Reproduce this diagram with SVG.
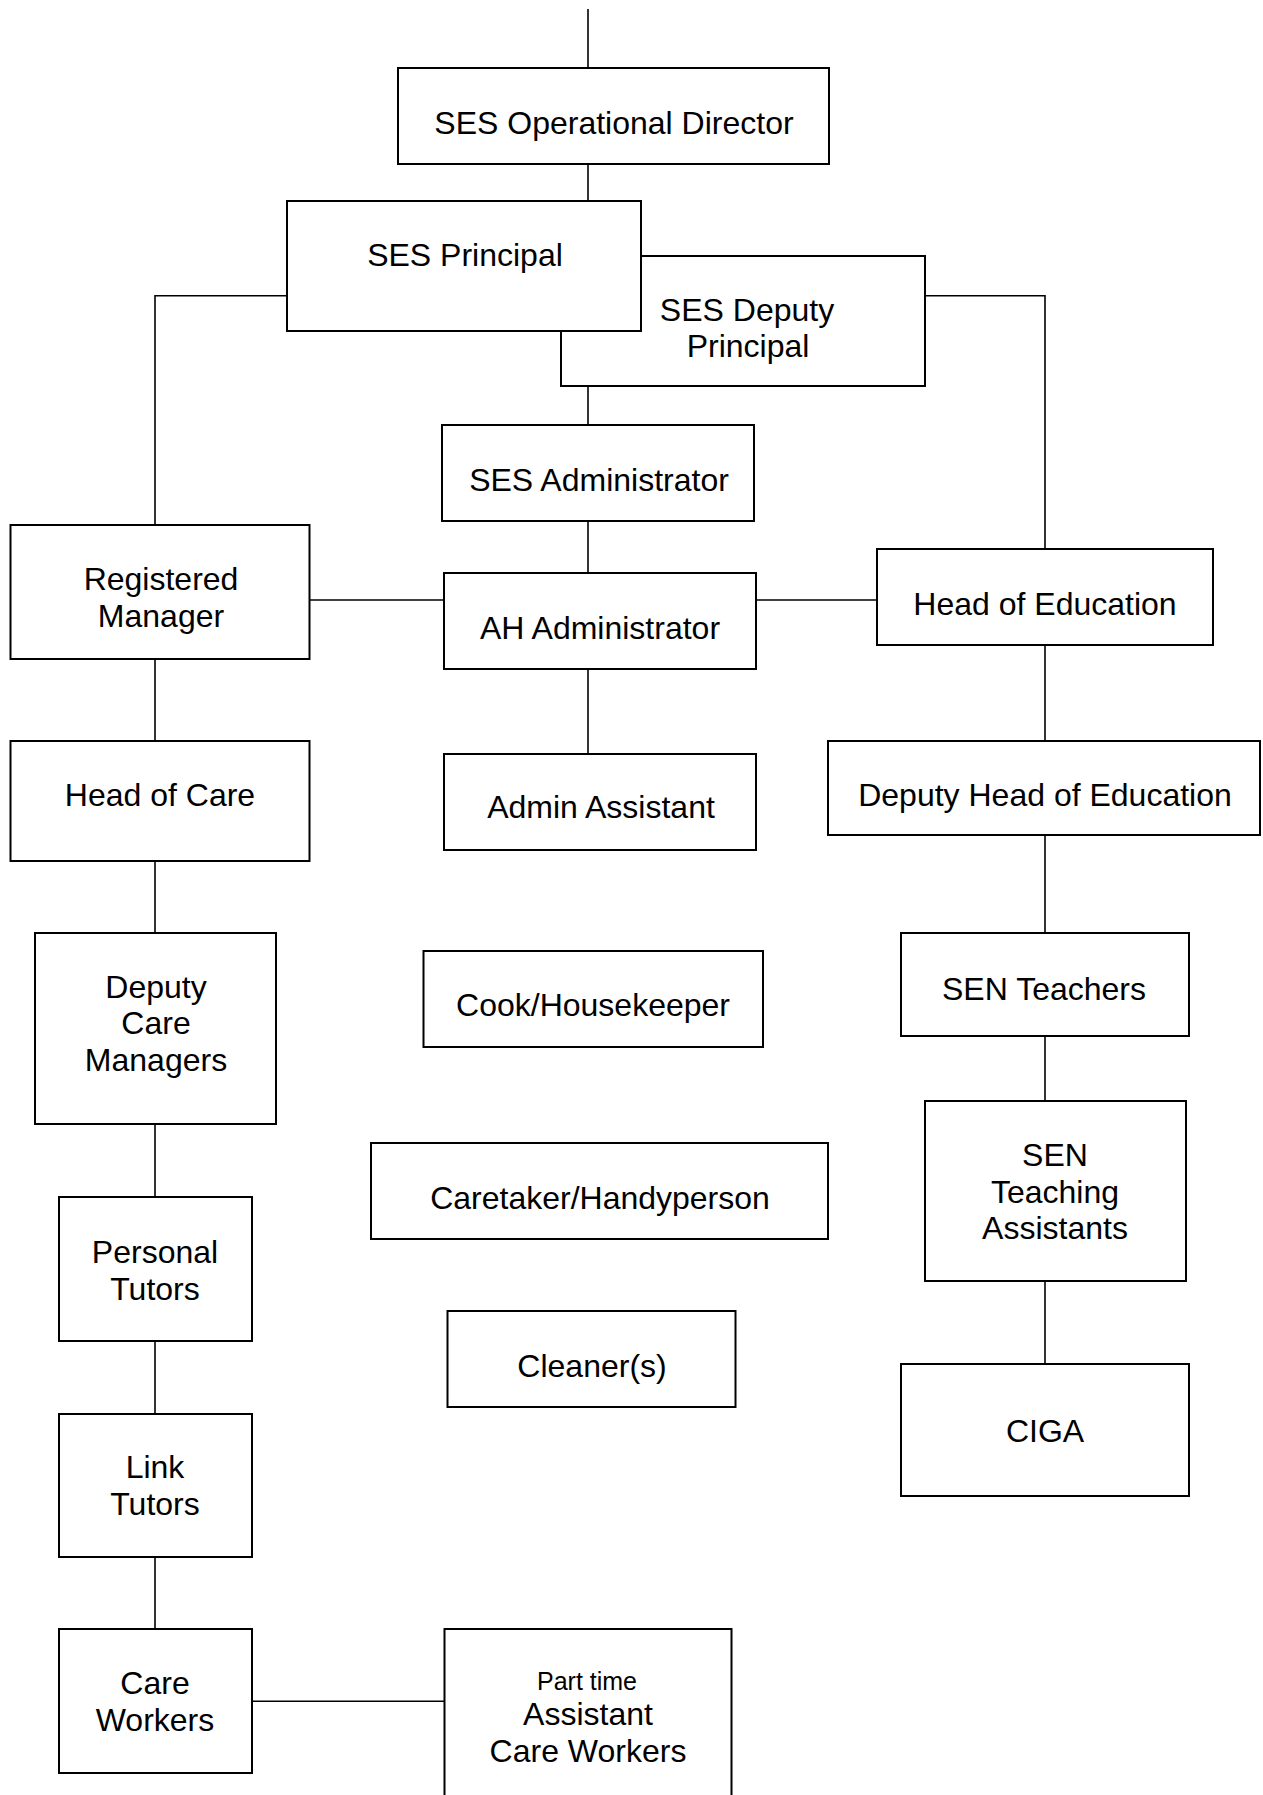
<svg xmlns="http://www.w3.org/2000/svg" width="1263" height="1795" viewBox="0 0 1263 1795">
<style>
.box{fill:#fff;stroke:#000;stroke-width:2}
.ln{fill:none;stroke:#000;stroke-width:1.6}
text{font-family:"Liberation Sans",Arial,sans-serif;font-size:32px;fill:#000;text-anchor:middle}
.sm{font-size:25px}
</style>
<rect width="1263" height="1795" fill="#fff"/>
<g id="connectors">
<path class="ln" d="M588,9V68"/>
<path class="ln" d="M588,164V201"/>
<path class="ln" d="M288,295.7H155V525"/>
<path class="ln" d="M925,295.7H1045V549"/>
<path class="ln" d="M588,386V425"/>
<path class="ln" d="M588,521V573"/>
<path class="ln" d="M310,600H444"/>
<path class="ln" d="M756,600H877"/>
<path class="ln" d="M588,669V754"/>
<path class="ln" d="M155,659V741"/>
<path class="ln" d="M155,861V933"/>
<path class="ln" d="M155,1124V1197"/>
<path class="ln" d="M155,1341V1414"/>
<path class="ln" d="M155,1557V1629"/>
<path class="ln" d="M252,1701.3H444"/>
<path class="ln" d="M1045,645V741"/>
<path class="ln" d="M1045,835V933"/>
<path class="ln" d="M1045,1036V1101"/>
<path class="ln" d="M1045,1281V1364"/>
</g>
<g id="op-director"><rect class="box" x="398" y="68" width="431" height="96"/><text x="614" y="134">SES Operational Director</text></g>
<g id="deputy-principal"><rect class="box" x="561" y="256" width="364" height="130"/><text x="747" y="321">SES Deputy</text><text x="748" y="357">Principal</text></g>
<g id="principal"><rect class="box" x="287" y="201" width="354" height="130"/><text x="465" y="266">SES Principal</text></g>
<g id="ses-administrator"><rect class="box" x="442" y="425" width="312" height="96"/><text x="599" y="491">SES Administrator</text></g>
<g id="registered-manager"><rect class="box" x="10.5" y="525" width="299" height="134"/><text x="161" y="590">Registered</text><text x="161" y="627">Manager</text></g>
<g id="ah-administrator"><rect class="box" x="444" y="573" width="312" height="96"/><text x="600" y="639">AH Administrator</text></g>
<g id="head-of-education"><rect class="box" x="877" y="549" width="336" height="96"/><text x="1045" y="615">Head of Education</text></g>
<g id="head-of-care"><rect class="box" x="10.5" y="741" width="299" height="120"/><text x="160" y="806">Head of Care</text></g>
<g id="admin-assistant"><rect class="box" x="444" y="754" width="312" height="96"/><text x="601" y="818">Admin Assistant</text></g>
<g id="deputy-head-of-education"><rect class="box" x="828" y="741" width="432" height="94"/><text x="1045" y="806">Deputy Head of Education</text></g>
<g id="deputy-care-managers"><rect class="box" x="35" y="933" width="241" height="191"/><text x="156" y="998">Deputy</text><text x="156" y="1034">Care</text><text x="156" y="1071">Managers</text></g>
<g id="cook-housekeeper"><rect class="box" x="423.5" y="951" width="339.5" height="96"/><text x="593" y="1016">Cook/Housekeeper</text></g>
<g id="sen-teachers"><rect class="box" x="901" y="933" width="288" height="103"/><text x="1044" y="1000">SEN Teachers</text></g>
<g id="caretaker"><rect class="box" x="371" y="1143" width="457" height="96"/><text x="600" y="1209">Caretaker/Handyperson</text></g>
<g id="sen-teaching-assistants"><rect class="box" x="925" y="1101" width="261" height="180"/><text x="1055" y="1166">SEN</text><text x="1055" y="1203">Teaching</text><text x="1055" y="1239">Assistants</text></g>
<g id="personal-tutors"><rect class="box" x="59" y="1197" width="193" height="144"/><text x="155" y="1263">Personal</text><text x="155" y="1300">Tutors</text></g>
<g id="cleaners"><rect class="box" x="447.5" y="1311" width="288" height="96"/><text x="592" y="1377">Cleaner(s)</text></g>
<g id="ciga"><rect class="box" x="901" y="1364" width="288" height="132"/><text x="1045" y="1442">CIGA</text></g>
<g id="link-tutors"><rect class="box" x="59" y="1414" width="193" height="143"/><text x="155" y="1478">Link</text><text x="155" y="1515">Tutors</text></g>
<g id="care-workers"><rect class="box" x="59" y="1629" width="193" height="144"/><text x="155" y="1694">Care</text><text x="155" y="1731">Workers</text></g>
<g id="part-time-acw"><rect class="box" x="444.5" y="1629" width="287" height="180"/><text class="sm" x="587" y="1690">Part time</text><text x="588" y="1725">Assistant</text><text x="588" y="1762">Care Workers</text></g>
</svg>
